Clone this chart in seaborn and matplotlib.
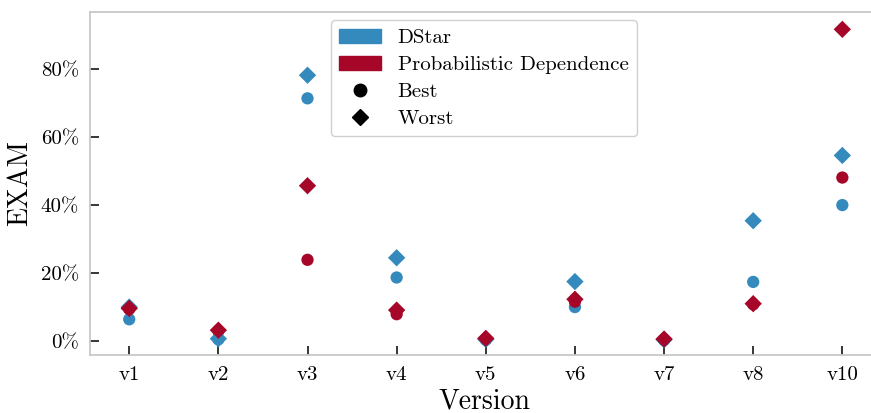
import matplotlib
matplotlib.use("Agg")
import matplotlib.pyplot as plt
from matplotlib.patches import Patch
from matplotlib.lines import Line2D
from matplotlib.ticker import PercentFormatter
import seaborn as sns
import pandas as pd

versions = ["v1", "v2", "v3", "v4", "v5", "v6", "v7", "v8", "v10"]
dstar_best = [6.4, 0.5, 71.4, 18.7, 0.4, 10.0, 0.3, 17.4, 40.0]
pd_best = [9.4, 3.0, 23.9, 7.9, 0.6, 11.6, 0.5, 10.8, 48.1]
dstar_worst = [10.0, 0.7, 78.2, 24.5, 0.5, 17.5, 0.4, 35.4, 54.6]
pd_worst = [9.6, 3.2, 45.7, 9.1, 0.8, 12.3, 0.6, 11.0, 91.7]
methods = ["DStar", "Probabilistic Dependence"]
kinds = ["Best", "Worst"]
colors = ["#348ABD", "#A60628"]

rows = []
for method, kind, vals in [
    ("DStar", "Best", dstar_best),
    ("Probabilistic Dependence", "Best", pd_best),
    ("DStar", "Worst", dstar_worst),
    ("Probabilistic Dependence", "Worst", pd_worst),
]:
    for v, val in zip(versions, vals):
        rows.append({"Version": v, "EXAM": val, "method": method, "kind": kind})
df = pd.DataFrame(rows)

sns.set_theme(style="ticks")
plt.rcParams["font.family"] = ["cmr10", "DejaVu Serif"]
plt.rcParams["axes.unicode_minus"] = False
plt.rcParams["mathtext.fontset"] = "cm"
plt.rcParams["text.color"] = "black"
plt.rcParams["axes.labelcolor"] = "black"
plt.rcParams["xtick.color"] = "black"
plt.rcParams["ytick.color"] = "black"

fig = plt.figure(figsize=(8.71, 4.13), dpi=100)
ax = fig.add_axes([90 / 871, (413 - 355) / 413, (878 - 90) / 871, (355 - 12) / 413])

sns.scatterplot(
    data=df, x="Version", y="EXAM", hue="method", style="kind",
    hue_order=methods, style_order=kinds,
    palette=dict(zip(methods, colors)), markers={"Best": "o", "Worst": "D"},
    s=78, linewidth=0, legend=False, ax=ax, zorder=3,
)

ax.set_xlim(-0.44, 8.4)
ax.set_ylim(-4.1, 96.8)
ax.set_yticks([0, 20, 40, 60, 80])
ax.yaxis.set_major_formatter(PercentFormatter(xmax=100, decimals=0))
ax.set_xlabel("Version", fontsize=20, labelpad=3)
ax.set_ylabel("EXAM", fontsize=20, labelpad=5)
ax.tick_params(axis="both", direction="in", length=6.5, width=1.1, color="black",
               labelcolor="black", labelsize=15, pad=8)
for sp in ax.spines.values():
    sp.set_color("#c8c8c8")
    sp.set_linewidth(1.3)

handles = [
    Patch(facecolor=colors[0], edgecolor=colors[0], label="DStar"),
    Patch(facecolor=colors[1], edgecolor=colors[1], label="Probabilistic Dependence"),
    Line2D([], [], marker="o", color="black", linestyle="none", markersize=9, label="Best"),
    Line2D([], [], marker="D", color="black", linestyle="none", markersize=8, label="Worst"),
]
leg = ax.legend(handles=handles, loc="upper center", fontsize=15, frameon=True,
                fancybox=True, framealpha=1, edgecolor="#d0d0d0",
                borderaxespad=0.4, handlelength=2.0, labelspacing=0.4)

fig.savefig("out.png", dpi=100)
